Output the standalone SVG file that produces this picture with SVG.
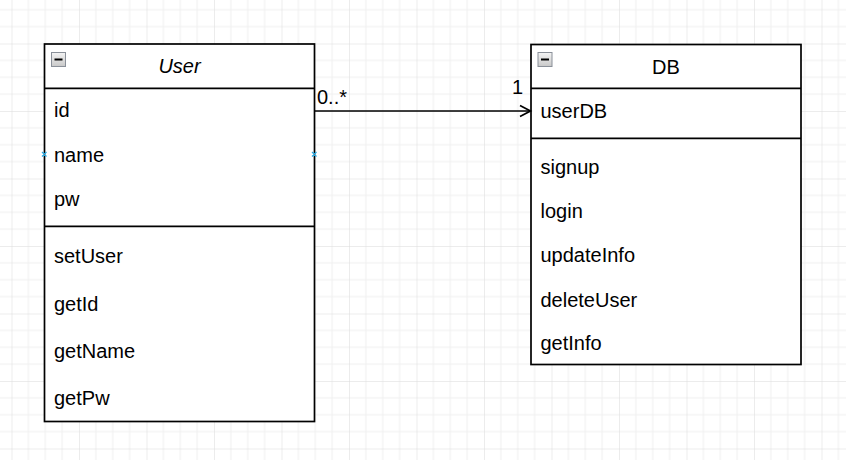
<svg xmlns="http://www.w3.org/2000/svg" width="846" height="460" viewBox="0 0 846 460">
<defs>
<pattern id="grid" x="11.5" y="43.5" width="67.5" height="67.5" patternUnits="userSpaceOnUse">
<path d="M16.875 0V67.5M33.75 0V67.5M50.625 0V67.5M0 16.875H67.5M0 33.75H67.5M0 50.625H67.5" stroke="#f0f0f0" stroke-width="1" fill="none"/>
<path d="M0 0V67.5M0 0H67.5" stroke="#dadada" stroke-width="1" fill="none"/>
</pattern>
<linearGradient id="ig" x1="0" y1="0" x2="0" y2="1">
<stop offset="0" stop-color="#f4f4f4"/>
<stop offset="1" stop-color="#c8c8c8"/>
</linearGradient>
<marker id="open" markerUnits="userSpaceOnUse" markerWidth="14" markerHeight="14" viewBox="-12 -7 14 14" refX="0" refY="0" orient="auto">
<path d="M-10.5 -5.5L0 0L-10.5 5.5" fill="none" stroke="#000" stroke-width="1.7"/>
</marker>
<g id="minus">
<rect x="0.5" y="0.5" width="14" height="14" fill="url(#ig)" stroke="#8a9099" stroke-width="1"/>
<path d="M3.5 7.5H11.5" stroke="#000" stroke-width="2"/>
</g>
</defs>
<style>
.box{fill:#fff;stroke:#000;stroke-width:1.7}
.sep{stroke:#000;stroke-width:1.7;fill:none}
text{font-family:"Liberation Sans",Arial,sans-serif;font-size:20px;fill:#000}
.ttl{text-anchor:middle}
.pt{stroke:#29a8e0;stroke-width:1.2;fill:none}
</style>
<rect width="846" height="460" fill="#fff"/>
<rect width="846" height="460" fill="url(#grid)"/>

<g id="User">
<rect class="box" x="44.5" y="44" width="270" height="377.5"/>
<path class="sep" d="M44.5 88.3H314.5M44.5 226.3H314.5"/>
<use href="#minus" x="51" y="52"/>
<text class="ttl" x="179.5" y="73" font-style="italic">User</text>
<text x="54" y="117">id</text>
<text x="54" y="161.5">name</text>
<text x="54" y="205.5">pw</text>
<text x="54" y="263">setUser</text>
<text x="54" y="310.5">getId</text>
<text x="54" y="358">getName</text>
<text x="54" y="405">getPw</text>
<path class="pt" d="M42 152L46.5 156.5M46.5 152L42 156.5M312 152L316.5 156.5M316.5 152L312 156.5"/>
</g>

<g id="DB">
<rect class="box" x="531" y="44.5" width="270" height="320"/>
<path class="sep" d="M531 88.3H801M531 138.3H801"/>
<use href="#minus" x="537.5" y="52"/>
<text class="ttl" x="666" y="74">DB</text>
<text x="540.5" y="117.5">userDB</text>
<text x="540.5" y="174">signup</text>
<text x="540.5" y="218.3">login</text>
<text x="540.5" y="262.3">updateInfo</text>
<text x="540.5" y="306.5">deleteUser</text>
<text x="540.5" y="350">getInfo</text>
</g>

<g id="connectors">
<path d="M314.5 111H530.5" fill="none" stroke="#000" stroke-width="1.7" marker-end="url(#open)"/>
<text x="317" y="103.5">0..*</text>
<text x="523" y="94" text-anchor="end">1</text>
</g>
</svg>
